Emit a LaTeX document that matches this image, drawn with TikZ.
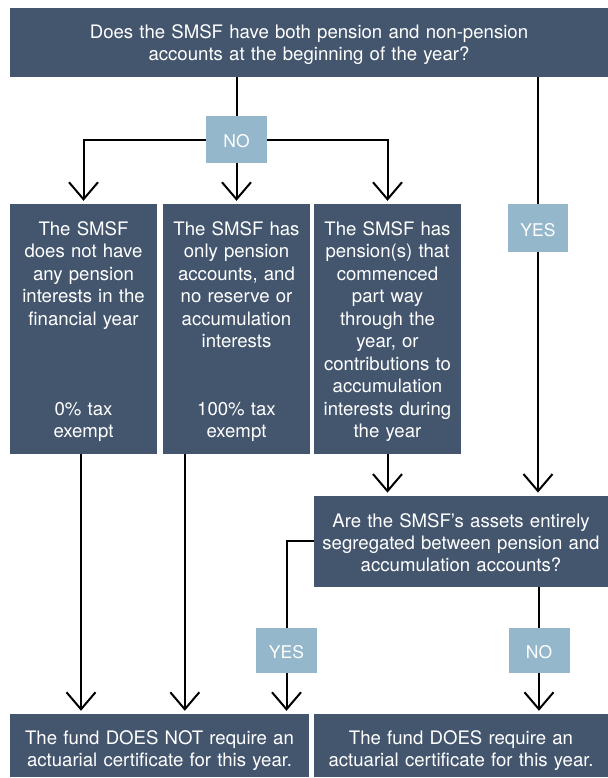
\documentclass[tikz,border=0pt]{standalone}
\usepackage{fontspec}
\setmainfont{TeX Gyre Heros}
\usetikzlibrary{arrows.meta}
\definecolor{boxdark}{HTML}{44566E}
\definecolor{boxlight}{HTML}{95B7CB}
\tikzset{
  darkbox/.style={fill=boxdark, text=white, inner sep=0pt, align=center},
  firstline/.style={execute at begin node={\rule{0pt}{#1}}},
  tallbox/.style={darkbox, minimum width=147bp, minimum height=250bp, text width=145bp,
    font=\fontsize{18.6bp}{22.5bp}\selectfont, firstline=19bp},
  lblbox/.style={fill=boxlight, text=white, inner sep=0pt, text height=16.6bp, text depth=0pt,
    font=\fontsize{17.5bp}{21bp}\selectfont},
  conn/.style={line width=2bp, draw=black},
  arr/.style={conn, -{Straight Barb[length=17bp,width=29bp,line width=2bp]}, shorten >=3bp}
}
\begin{document}
\begin{tikzpicture}[x=1bp,y=-1bp]
\useasboundingbox (0,0) rectangle (608,778);
% nodes
\node[darkbox, minimum width=598bp, minimum height=69bp, text width=590bp,
  font=\fontsize{18.6bp}{22bp}\selectfont, firstline=19.6bp] (top) at (309,42.2)
  {Does the SMSF have both pension and non-pension\\accounts at the beginning of the year?};
\node[lblbox, minimum width=61bp, minimum height=47bp] (no1) at (236.5,139.5) {NO};
\node[lblbox, minimum width=60bp, minimum height=48bp] (yes1) at (538,228) {YES};
\node[tallbox] (b1) at (83.5,329)
  {The SMSF\\does not have\\any pension\\interests in the\\financial year\\[67.5bp]0\% tax\\exempt};
\node[tallbox] (b2) at (236.5,329)
  {The SMSF has\\only pension\\accounts, and\\no reserve or\\accumulation\\interests\\[45bp]100\% tax\\exempt};
\node[tallbox] (b3) at (387.5,329)
  {The SMSF has\\pension(s) that\\commenced\\part way\\through the\\year, or\\contributions to\\accumulation\\interests during\\the year};
\node[darkbox, minimum width=294bp, minimum height=91bp, text width=288bp,
  font=\fontsize{18.6bp}{21.8bp}\selectfont, firstline=16.4bp] (q2) at (461,541.3)
  {Are the SMSF’s assets entirely\\segregated between pension and\\accumulation accounts?};
\node[lblbox, minimum width=61bp, minimum height=45bp] (yes2) at (286.5,650.5) {YES};
\node[lblbox, minimum width=61bp, minimum height=45bp] (no2) at (539,650.5) {NO};
\node[darkbox, minimum width=299bp, minimum height=63bp, text width=295bp,
  font=\fontsize{18.6bp}{21.5bp}\selectfont, firstline=24.4bp] (e1) at (159.5,745.5)
  {The fund DOES NOT require an\\actuarial certificate for this year.};
\node[darkbox, minimum width=294bp, minimum height=63bp, text width=290bp,
  font=\fontsize{18.6bp}{21.5bp}\selectfont, firstline=24.4bp] (e2) at (461,745.5)
  {The fund DOES require an\\actuarial certificate for this year.};
% connectors
\draw[conn] (no1.north |- top.south) -- (no1.north);
\draw[arr] (no1.south) -- (b2.north -| no1);
\draw[arr] (no1.west) -| (b1.north);
\draw[arr] (no1.east) -| (b3.north);
\draw[conn] (yes1.north |- top.south) -- (yes1.north);
\draw[arr] (yes1.south) -- (q2.north -| yes1);
\draw[arr] (b3.south) -- (q2.north -| b3);
\draw[conn] (q2.west) -| (yes2.north);
\draw[arr] (yes2.south) -- (e1.north -| yes2);
\draw[conn] (no2.north |- q2.south) -- (no2.north);
\draw[arr] (no2.south) -- (e2.north -| no2);
\draw[arr] ([xshift=-2.5bp]b1.south) -- ([xshift=-2.5bp]b1.south |- e1.north);
\draw[arr] ([xshift=22bp]b2.south west) -- ([xshift=22bp]b2.south west |- e1.north);
\end{tikzpicture}
\end{document}
